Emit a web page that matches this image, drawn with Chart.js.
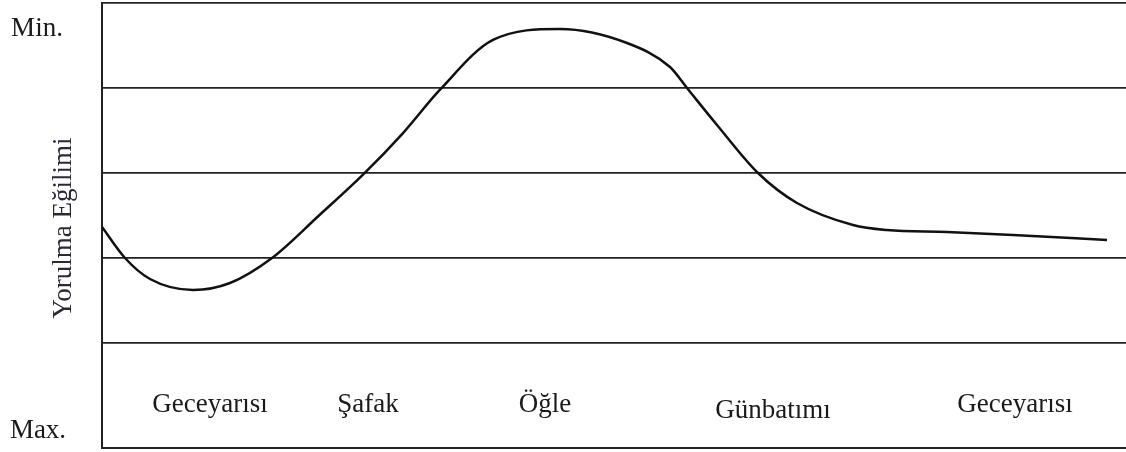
<!DOCTYPE html>
<html lang="tr">
<head>
    <meta charset="UTF-8">
    <title>Yorulma Eğilimi</title>
    <script src="https://cdn.jsdelivr.net/npm/chart.js"></script>
    <style>
        body {
            margin: 0;
            background: #fff;
        }
        .wrap {
            width: 1126px;
            height: 452px;
            position: relative;
        }
    </style>
</head>
<body>
    <div class="wrap">
        <canvas id="myChart"></canvas>
    </div>

    <script>
        // curve (x = position along the day, y = level between grid lines)
        const dayPos = [0, 23, 48, 91, 128, 170, 217, 261, 301, 338, 391, 458, 525, 568, 585, 615, 656, 695, 751, 785, 845, 911, 1005];
        const fatigue = [1.365, 1.0, 0.753, 0.624, 0.706, 1.0, 1.5, 1.98, 2.47, 2.98, 3.565, 3.694, 3.529, 3.247, 3.0, 2.565, 2.0, 1.647, 1.388, 1.329, 1.306, 1.271, 1.212];

        // time-of-day labels and where they sit on the x axis
        const timeLabels = ['Geceyarısı', 'Şafak', 'Öğle', 'Günbatımı', 'Geceyarısı'];
        const timeLabelPos = [108, 266, 443, 671, 913];

        const gridTicks = [0, 1, 2, 3, 4];
        const yMin = -1.235;
        const yMax = 4;

        const textFont = '27px "Liberation Serif", "DejaVu Serif", serif';

        const labelsPlugin = {
            id: 'labels',
            afterDraw(chart) {
                const ctx = chart.ctx;
                const xs = chart.scales.x;
                const ys = chart.scales.y;
                ctx.save();
                ctx.font = textFont;
                ctx.fillStyle = '#1a1a1a';
                ctx.textAlign = 'center';
                ctx.textBaseline = 'middle';
                timeLabels.forEach((t, i) => {
                    const dy = t === 'Günbatımı' ? 6 : 0;
                    ctx.fillText(t, xs.getPixelForValue(timeLabelPos[i]), ys.getPixelForValue(-0.73) + dy);
                });

                // Min. / Max. at the ends of the y axis
                ctx.fillText('Min.', 37, ys.getPixelForValue(yMax) + 26);
                ctx.fillText('Max.', 38, ys.getPixelForValue(yMin) - 17);

                // rotated axis title
                ctx.translate(64, 228);
                ctx.rotate(-Math.PI / 2);
                ctx.fillStyle = '#2a2a35';
                ctx.fillText('Yorulma Eğilimi', 0, 0);
                ctx.restore();
            }
        };

        const ctx = document.getElementById('myChart').getContext('2d');
        const myChart = new Chart(ctx, {
            type: 'line',
            data: {
                datasets: [{
                    data: dayPos.map((x, i) => ({ x: x, y: fatigue[i] })),
                    borderColor: '#111',
                    borderWidth: 2.5,
                    pointRadius: 0,
                    cubicInterpolationMode: 'monotone',
                    fill: false
                }]
            },
            options: {
                responsive: true,
                maintainAspectRatio: false,
                animation: false,
                layout: {
                    padding: { left: 102, top: 3, right: 0, bottom: 4 }
                },
                plugins: {
                    legend: { display: false },
                    tooltip: { enabled: false }
                },
                scales: {
                    x: {
                        type: 'linear',
                        min: 0,
                        max: 1024,
                        ticks: { display: false, padding: 0 },
                        grid: { display: false, drawTicks: false },
                        border: { display: true, color: '#222', width: 2 }
                    },
                    y: {
                        min: yMin,
                        max: yMax,
                        afterBuildTicks: (axis) => {
                            axis.ticks = gridTicks.map(v => ({ value: v }));
                        },
                        ticks: { display: false },
                        grid: { color: '#222', lineWidth: 1.8, drawTicks: false },
                        border: { display: true, color: '#222', width: 2 }
                    }
                }
            },
            plugins: [labelsPlugin]
        });
    </script>
</body>
</html>
